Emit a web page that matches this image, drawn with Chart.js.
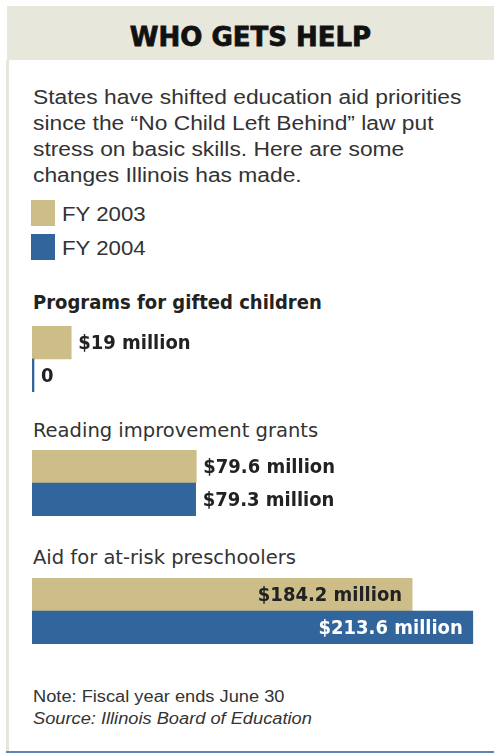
<!DOCTYPE html>
<html>
<head>
<meta charset="utf-8">
<script src="https://cdn.jsdelivr.net/npm/chart.js@4/dist/chart.umd.min.js"></script>
<style>
  body{margin:0;width:494px;height:755px;background:#fff;position:relative;overflow:hidden;font-family:"Liberation Sans",Arial,sans-serif;}
  .abs{position:absolute;}
  .wide{transform:scaleX(1.14);transform-origin:0 0;white-space:nowrap;}
  #band{left:7px;top:6px;width:487px;height:54px;background:#e8e7dc;}
  #title{left:7px;top:7px;width:487px;height:54px;font:bold 26px "DejaVu Sans";line-height:60px;text-align:center;color:#111;-webkit-text-stroke:0.8px #111;}
  #leftLine{left:6px;top:60px;width:3px;height:692px;background:#e8e7dc;}
  #bottomLine{left:6px;top:751px;width:488px;height:2px;background:#5b86b6;}
  #intro{left:33px;top:84px;font-size:20px;line-height:26px;color:#333;}
  .sw{width:24px;height:26px;}
  .legTxt{font-size:19.5px;line-height:26px;color:#333;}
  .grp{font:20px "DejaVu Sans Condensed","DejaVu Sans";line-height:30px;color:#333;transform:scaleX(1.085);transform-origin:0 0;white-space:nowrap;}
  .grp.b{font-weight:bold;color:#222;transform:none;}
  .note{left:33px;font-size:16px;line-height:20px;color:#333;}
  canvas{position:absolute;left:32px;}
</style>
</head>
<body>
<div class="abs" id="band"></div>
<div class="abs" id="title">WHO GETS HELP</div>
<div class="abs" id="leftLine"></div>
<div class="abs" id="bottomLine"></div>
<div class="abs wide" id="intro">States have shifted education aid priorities<br>since the “No Child Left Behind” law put<br>stress on basic skills. Here are some<br>changes Illinois has made.</div>
<div class="abs note wide" style="top:687px">Note: Fiscal year ends June 30</div>
<div class="abs note wide" style="top:709px;font-style:italic">Source: Illinois Board of Education</div>

<script>
// values in millions of dollars
const years = ['FY 2003', 'FY 2004'];
const programs = ['Programs for gifted children', 'Reading improvement grants', 'Aid for at-risk preschoolers'];
const fy2003 = [19, 79.6, 184.2];
const fy2004 = [0, 79.3, 213.6];

const TAN = '#cdbd89';
const BLUE = '#31659b';
const colors = [TAN, BLUE];

const groupTop = [326, 450, 578];   // top of each pair of bars
const titleMid = [302, 430, 557];

// legend
years.forEach(function(y, i){
  const top = 200 + i * 34;
  const sw = document.createElement('div');
  sw.className = 'abs sw';
  sw.style.cssText = 'left:31px;top:' + top + 'px;background:' + colors[i];
  document.body.appendChild(sw);
  const t = document.createElement('div');
  t.className = 'abs legTxt wide';
  t.style.cssText = 'left:62px;top:' + (top + 1) + 'px';
  t.textContent = y;
  document.body.appendChild(t);
});

function fmt(v){ return v === 0 ? '0' : '$' + v + ' million'; }

// value labels: outside the bar if there is room, else inside right-aligned
const valueLabels = {
  id: 'valueLabels',
  afterDatasetsDraw(chart){
    const ctx = chart.ctx;
    const area = chart.chartArea;
    ctx.save();
    ctx.font = 'bold 20px "DejaVu Sans Condensed", "DejaVu Sans"';
    ctx.textBaseline = 'middle';
    chart.getDatasetMeta(0).data.forEach(function(bar, i){
      const txt = fmt(chart.data.datasets[0].data[i]);
      const w = ctx.measureText(txt).width;
      if(bar.x + 8 + w <= area.right){
        ctx.textAlign = 'left';
        ctx.fillStyle = '#222';
        ctx.fillText(txt, bar.x + 7, bar.y + 1);
      } else {
        ctx.textAlign = 'right';
        ctx.fillStyle = i === 1 ? '#fff' : '#222';
        ctx.fillText(txt, bar.x - 10, bar.y + 1);
      }
    });
    ctx.restore();
  }
};

function createPairChart(ctx, values){
  return new Chart(ctx, {
    type: 'bar',
    data: { labels: years, datasets: [{ data: values, backgroundColor: colors, barPercentage: 1, categoryPercentage: 1, minBarLength: 2 }] },
    options: {
      indexAxis: 'y', responsive: false, animation: false,
      layout: { padding: 0 },
      plugins: { legend: { display: false }, tooltip: { enabled: false } },
      scales: {
        x: { display: false, min: 0, max: 220 },
        y: { display: false }
      }
    },
    plugins: [valueLabels]
  });
}

programs.forEach(function(name, i){
  const t = document.createElement('div');
  t.className = 'abs grp' + (i === 0 ? ' b' : '');
  t.style.left = '33px';
  t.style.top = (titleMid[i] - 15) + 'px';
  t.textContent = name;
  document.body.appendChild(t);

  const c = document.createElement('canvas');
  c.width = 454; c.height = 66;
  c.style.top = groupTop[i] + 'px';
  document.body.appendChild(c);
  createPairChart(c.getContext('2d'), [fy2003[i], fy2004[i]]);
});
</script>
</body>
</html>
